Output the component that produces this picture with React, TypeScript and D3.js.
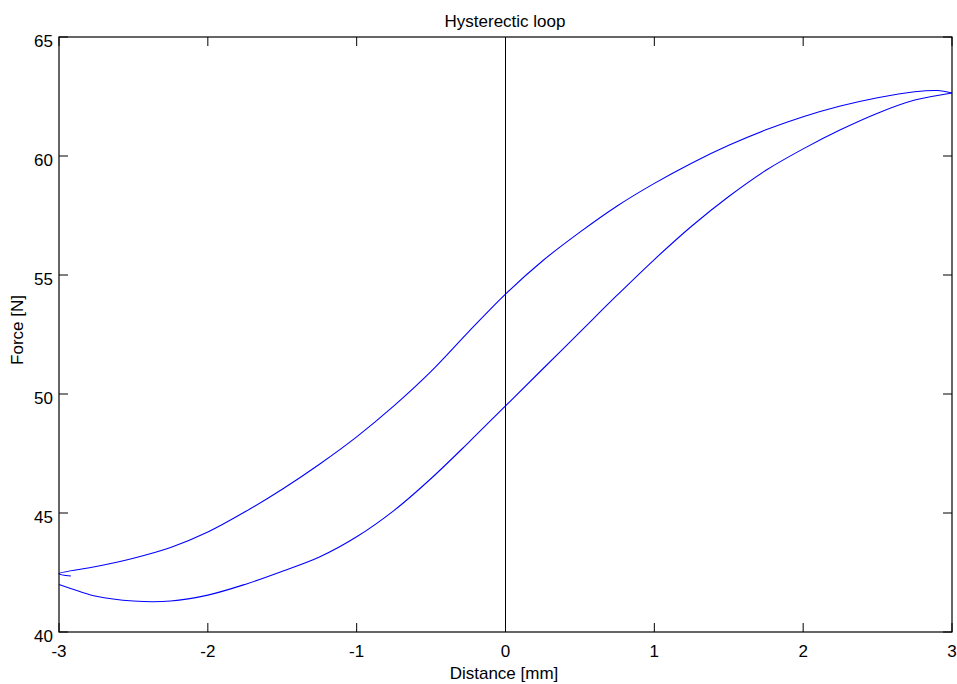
import React from "react";
import * as d3 from "d3";

const title = "Hysterectic loop";
const xLabel = "Distance [mm]";
const yLabel = "Force [N]";
const xTicks = [-3, -2, -1, 0, 1, 2, 3];
const yTicks = [40, 45, 50, 55, 60, 65];

// loading branch (left to right)
const upperX = [-2.92, -3, -2.75, -2.5, -2.25, -2, -1.75, -1.5, -1.25, -1, -0.75, -0.5, -0.25, 0, 0.25, 0.5, 0.75, 1, 1.25, 1.5, 1.75, 2, 2.25, 2.5, 2.75, 2.9, 3];
const upperY = [42.35, 42.45, 42.75, 43.1, 43.55, 44.2, 45.05, 46.0, 47.05, 48.2, 49.5, 50.95, 52.6, 54.2, 55.6, 56.8, 57.9, 58.85, 59.7, 60.45, 61.1, 61.65, 62.1, 62.45, 62.7, 62.75, 62.65];
// unloading branch (right to left)
const lowerX = [3, 2.75, 2.5, 2.25, 2, 1.75, 1.5, 1.25, 1, 0.75, 0.5, 0.25, 0, -0.25, -0.5, -0.75, -1, -1.25, -1.5, -1.75, -2, -2.25, -2.5, -2.75, -3];
const lowerY = [62.65, 62.35, 61.8, 61.1, 60.3, 59.4, 58.3, 57.05, 55.65, 54.15, 52.6, 51.05, 49.5, 47.95, 46.45, 45.1, 44.0, 43.15, 42.55, 42.0, 41.55, 41.3, 41.3, 41.5, 42.0];

export default function App() {
  const W = 957, H = 684;
  const L = 59, R = 952, T = 37, B = 632;
  const x = d3.scaleLinear().domain([-3, 3]).range([L, R]);
  const y = d3.scaleLinear().domain([40, 65]).range([B, T]);
  const upper: [number, number][] = upperX.map((v, i) => [v, upperY[i]]);
  const lower: [number, number][] = lowerX.map((v, i) => [v, lowerY[i]]);
  const line = d3.line<[number, number]>().x(d => x(d[0])).y(d => y(d[1])).curve(d3.curveCatmullRom);
  const font = "'Liberation Sans', Arial, Helvetica, sans-serif";
  const tk = 9;
  const fs = 17;
  return (
    <svg width={W} height={H} style={{ position: "absolute", left: 0, top: 0, background: "#fff" }} fontFamily={font}>
      <rect x={0} y={0} width={W} height={H} fill="#fff" />
      <path d={line(upper) || ""} fill="none" stroke="#0000ff" strokeWidth={1.1} />
      <path d={line(lower) || ""} fill="none" stroke="#0000ff" strokeWidth={1.1} />
      <line x1={x(0)} x2={x(0)} y1={T} y2={B} stroke="#000" strokeWidth={1} />
      <rect x={L} y={T} width={R - L} height={B - T} fill="none" stroke="#000" strokeWidth={1.2} />
      {xTicks.map(t => (
        <g key={"x" + t}>
          <line x1={x(t)} x2={x(t)} y1={B} y2={B - tk} stroke="#000" />
          <line x1={x(t)} x2={x(t)} y1={T} y2={T + tk} stroke="#000" />
          <text x={x(t)} y={657} fontSize={fs} textAnchor="middle">{t}</text>
        </g>
      ))}
      {yTicks.map(t => (
        <g key={"y" + t}>
          <line x1={L} x2={L + tk} y1={y(t)} y2={y(t)} stroke="#000" />
          <line x1={R} x2={R - tk} y1={y(t)} y2={y(t)} stroke="#000" />
          <text x={53} y={y(t) + 10} fontSize={fs} textAnchor="end">{t}</text>
        </g>
      ))}
      <text x={505} y={27} fontSize={fs} textAnchor="middle">{title}</text>
      <text x={504} y={679} fontSize={fs} textAnchor="middle">{xLabel}</text>
      <text transform={`translate(23,330) rotate(-90)`} fontSize={fs} textAnchor="middle">{yLabel}</text>
    </svg>
  );
}
